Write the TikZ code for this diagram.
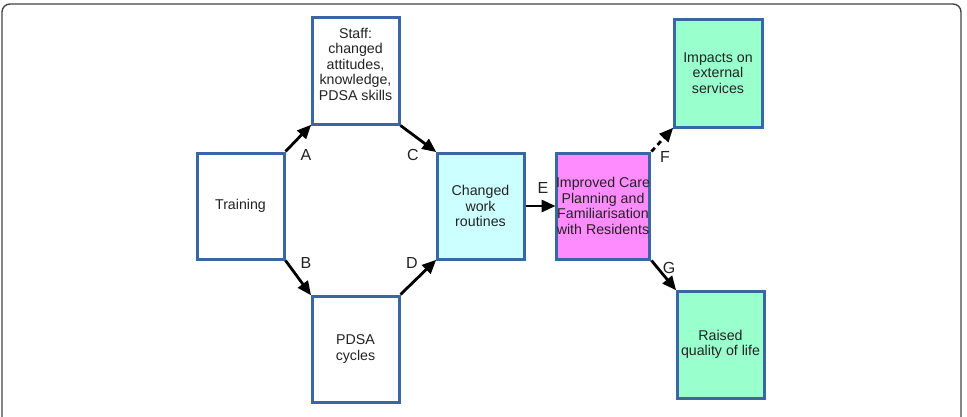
\documentclass[tikz,border=0pt]{standalone}
\usepackage{fontspec}
\setmainfont{Liberation Sans}
\usetikzlibrary{arrows.meta}
\definecolor{boxblue}{HTML}{3A67A3}
\definecolor{fillcyan}{HTML}{CCFFFF}
\definecolor{fillpink}{HTML}{FF8CFF}
\definecolor{fillgreen}{HTML}{99FFCC}
\definecolor{txtgray}{HTML}{222222}
\definecolor{framegray}{HTML}{444444}
\tikzset{
  box/.style={draw=boxblue, line width=3pt, fill=white, minimum width=87pt,
    minimum height=106pt, inner sep=0pt, align=center, text=txtgray,
    font=\fontsize{14.2}{15.5}\selectfont},
  txt/.style={align=center, text=txtgray, inner sep=0pt,
    font=\fontsize{14.2}{15.5}\selectfont},
  lbl/.style={text=txtgray, inner sep=0pt, font=\fontsize{16}{18}\selectfont},
  link/.style={line width=2.8pt, -{Triangle[length=14pt,width=12pt]}, shorten >=-1pt},
}
\begin{document}
\begin{tikzpicture}[x=1pt,y=-1pt]
\useasboundingbox (0,0) rectangle (967,416);
% outer frame, open at the bottom
\draw[framegray, line width=1.4pt, rounded corners=8pt] (2,420) -- (2,4) -- (961,4) -- (961,420);

% boxes
\node[box, minimum height=107pt] (staff) at (355.5,70.5) {};
\node[txt] (stafftxt) at (355.5,64) {Staff:\\changed\\attitudes,\\knowledge,\\PDSA skills};
\node[box] (training) at (240.5,206) {Training};
\node[box, fill=fillcyan] (changed) at (480.5,206) {Changed\\work\\routines};
\node[box] (pdsa) at (355.5,349) {PDSA\\cycles};
\node[box, fill=fillpink, minimum width=88pt] (improved) at (603,206) {Improved Care\\Planning and\\Familiarisation\\with Residents};
\node[box, fill=fillgreen, minimum width=88pt, minimum height=108pt] (impacts) at (718,73) {Impacts on\\external\\services};
\node[box, fill=fillgreen, minimum height=107pt] (raised) at (720.5,344.5) {Raised\\quality of life};

% connectors
\draw[link] (training.north east) -- (staff.south west);
\draw[link] (staff.south east) -- (changed.north west);
\draw[link] (training.south east) -- (pdsa.north west);
\draw[link] (pdsa.north east) -- (changed.south west);
\draw[link] (changed.east) -- (improved.west);
\draw[link, dash pattern=on 5pt off 4pt] (improved.north east) -- (impacts.south west);
\draw[link] (improved.south east) -- (raised.north west);

% connector labels
\node[lbl] (la) at (306,155) {A};
\node[lbl] (lc) at (413,155) {C};
\node[lbl] (lb) at (306,263) {B};
\node[lbl] (ld) at (412,263) {D};
\node[lbl] (le) at (543,188) {E};
\node[lbl] (lf) at (665,157) {F};
\node[lbl] (lg) at (669,268) {G};
\end{tikzpicture}
\end{document}
